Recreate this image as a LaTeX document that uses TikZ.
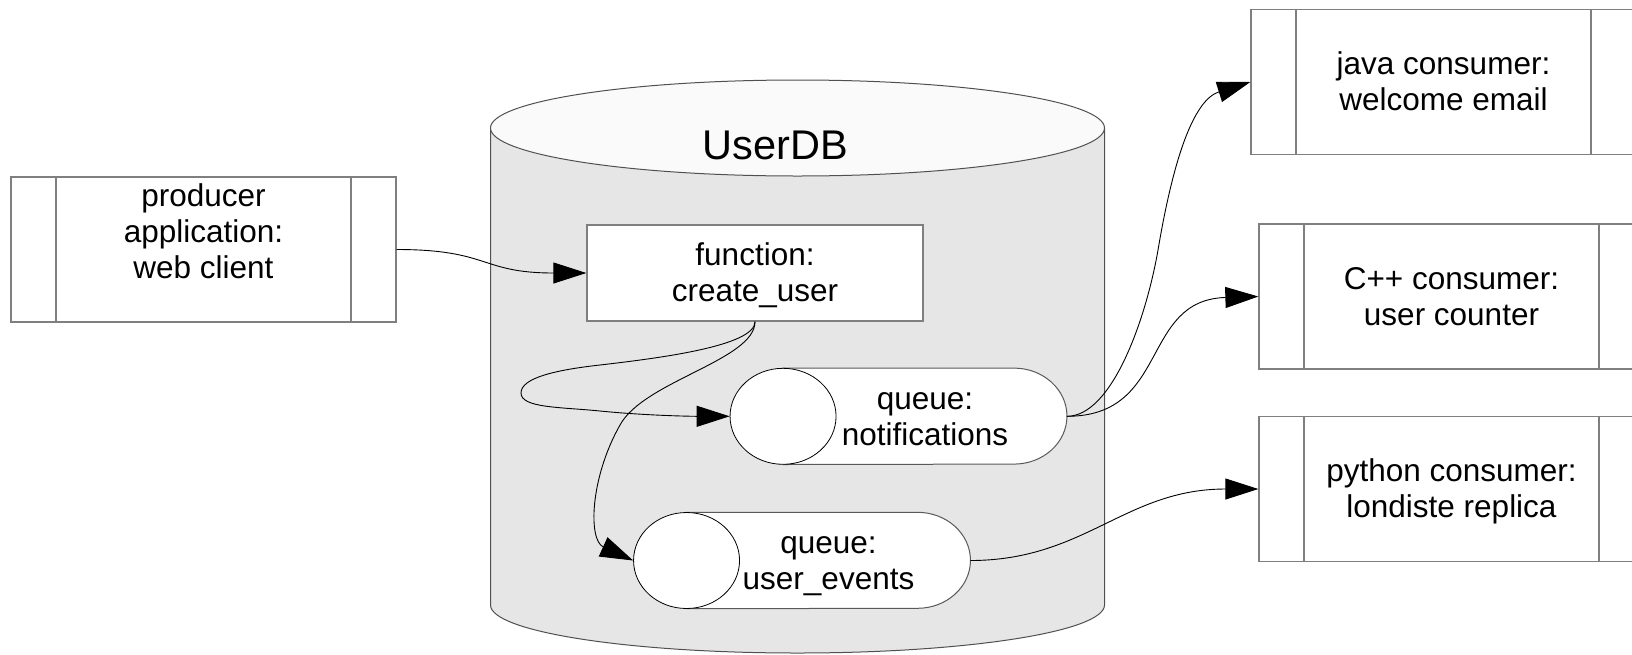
\documentclass[tikz,border=0pt]{standalone}
\usepackage{fontspec}
\setmainfont{Liberation Sans}
\usetikzlibrary{arrows.meta,shapes.geometric}
\pgfdeclarelayer{back}
\pgfdeclarelayer{mid}
\pgfsetlayers{back,mid,main}
\definecolor{edgegray}{HTML}{7F7F7F}
\definecolor{dbgray}{HTML}{E6E6E6}
\definecolor{dbtop}{HTML}{FAFAFA}
\definecolor{dbedge}{HTML}{505050}
% line strut: Arial-like ascent and descent
\newcommand\ls{\rule[-0.212em]{0pt}{1.117em}}
\tikzset{
  txt/.style={font=\fontsize{31.5}{36}\selectfont, align=center, inner sep=0pt},
  procbox/.style={txt, draw=edgegray, line width=1.3pt, fill=white,
    minimum width=385pt, minimum height=145pt,
    path picture={\draw[edgegray, line width=1.3pt]
      ([xshift=45pt]path picture bounding box.north west) -- ([xshift=45pt]path picture bounding box.south west)
      ([xshift=-45pt]path picture bounding box.north east) -- ([xshift=-45pt]path picture bounding box.south east);}},
  funcbox/.style={txt, draw=edgegray, line width=1.3pt, fill=white,
    minimum width=336pt, minimum height=96pt},
  qtext/.style={txt, minimum width=283.5pt, minimum height=96pt},
  qend/.style={ellipse, draw=black, line width=0.8pt, fill=white,
    minimum width=106pt, minimum height=96pt, inner sep=0pt},
  qbody/.style={draw=black!65, line width=1pt, fill=white},
  conn/.style={draw=black, line width=0.9pt, -{Triangle[length=33pt,width=21pt]}},
}
\begin{document}
\begin{tikzpicture}[x=1pt, y=-1pt]
\useasboundingbox (0,0) rectangle (1632,654);

% database cylinder
\begin{pgfonlayer}{back}
  \filldraw[fill=dbgray, draw=dbedge, line width=1pt]
    (490.5,128) -- (490.5,605)
    arc[start angle=180, end angle=0, x radius=307, y radius=48]
    -- (1104.5,128) -- cycle;
  \filldraw[fill=dbtop, draw=dbedge, line width=1pt]
    (797.5,128) ellipse [x radius=307, y radius=48];
\end{pgfonlayer}
\node[font=\fontsize{41.5}{48}\selectfont, anchor=base, inner sep=0pt] (db) at (775.5,159) {UserDB};

% producer and consumers
\node[procbox] (prod) at (203.5,249.5) {\ls producer\\\ls application:\\\ls web client\\\ls};
\node[procbox] (java) at (1443.5,82) {\ls java consumer:\\\ls welcome email};
\node[procbox] (cpp) at (1451.5,296.5) {\ls C++ consumer:\\\ls user counter};
\node[procbox] (py) at (1451.5,489) {\ls python consumer:\\\ls londiste replica};

% stored function
\node[funcbox] (func) at (755,273) {\ls function:\\\ls create\_user};

% queues
\node[qtext] (notif) at (925,416.3) {\ls queue:\\\ls notifications};
\node[qtext] (ue) at (828.5,560.5) {\ls queue:\\\ls user\_events};
\begin{pgfonlayer}{mid}
  \draw[qbody] (notif.north west) -- ([xshift=-53pt]notif.north east)
    arc[start angle=-90, end angle=90, x radius=53, y radius=48] -- (notif.south west) -- cycle;
  \draw[qbody] (ue.north west) -- ([xshift=-53pt]ue.north east)
    arc[start angle=-90, end angle=90, x radius=53, y radius=48] -- (ue.south west) -- cycle;
\end{pgfonlayer}
\node[qend] (notifin) at (notif.west) {};
\node[qend] (uein) at (ue.west) {};

% connectors
\draw[conn] (prod.east) .. controls (490,249.5) and (480,273) .. (func.west);
\draw[conn] (func.south) .. controls (755,346) and (660,358) .. (600,365)
  .. controls (555,370) and (521,378) .. (521,393)
  .. controls (521,408) and (560,407) .. (600,411)
  .. controls (645,415.5) and (690,416.3) .. (notifin.west);
\draw[conn] (func.south) .. controls (755,360) and (644,381) .. (620,425)
  .. controls (590,478) and (588,540) .. (uein.west);
\draw[conn] (notif.east) .. controls (1112,416.3) and (1146,319) .. (1158,250)
  .. controls (1173,161) and (1193,100) .. (java.west);
\draw[conn] (notif.east) .. controls (1170,416.3) and (1140,300) .. (cpp.west);
\draw[conn] (ue.east) .. controls (1085,560.5) and (1125,489) .. (py.west);
\end{tikzpicture}
\end{document}
